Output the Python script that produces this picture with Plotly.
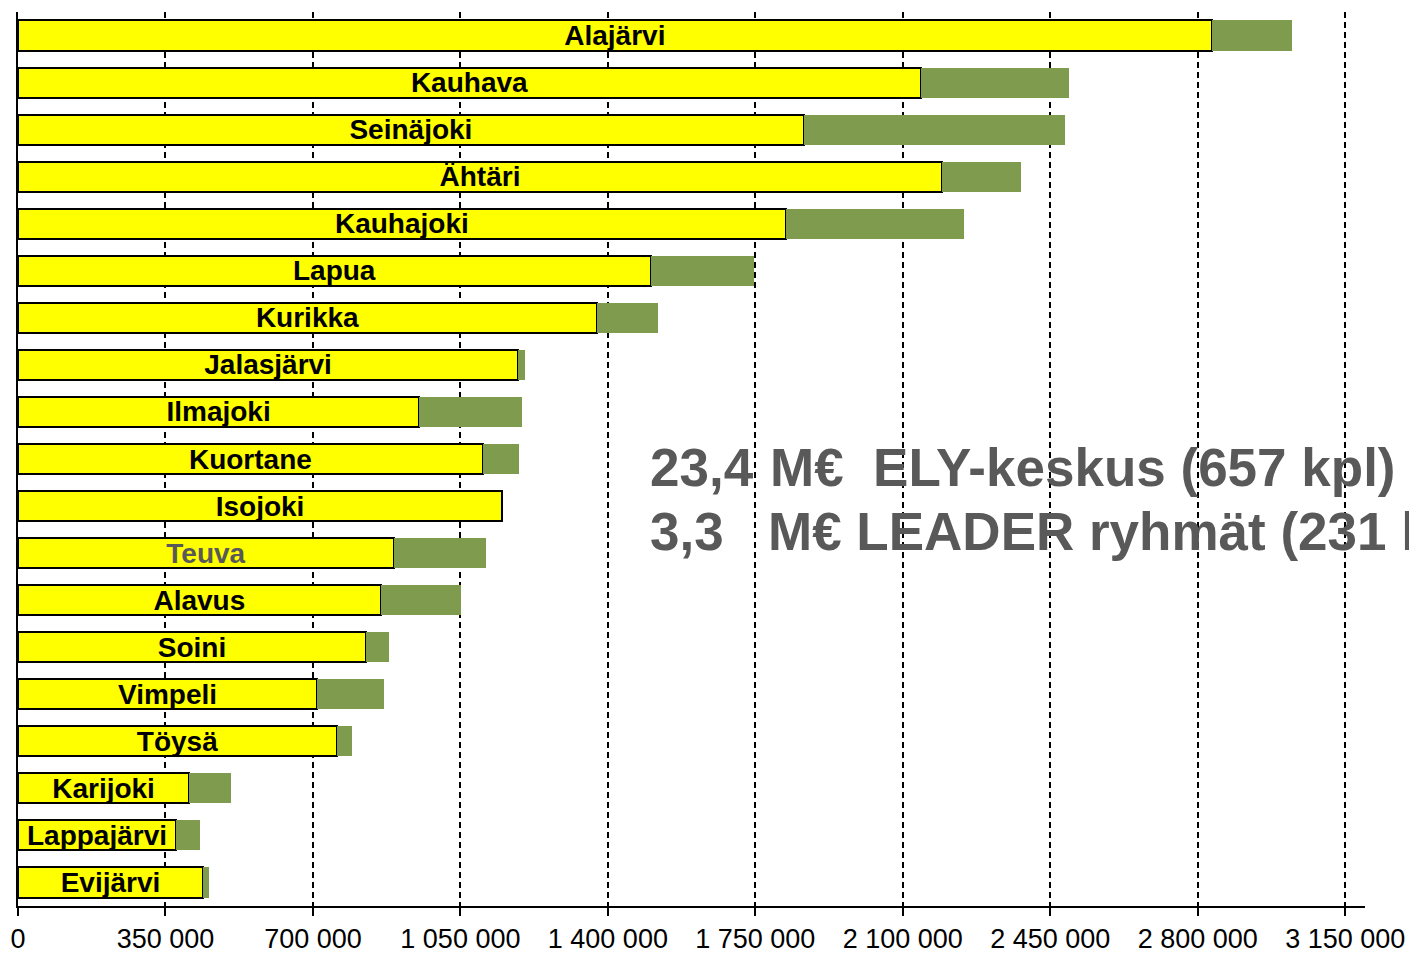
import plotly.graph_objects as go

municipalities = ["Alajärvi", "Kauhava", "Seinäjoki", "Ähtäri", "Kauhajoki", "Lapua", "Kurikka",
                  "Jalasjärvi", "Ilmajoki", "Kuortane", "Isojoki", "Teuva", "Alavus", "Soini",
                  "Vimpeli", "Töysä", "Karijoki", "Lappajärvi", "Evijärvi"]
ely = [2833000, 2143000, 1865000, 2193000, 1822000, 1502000, 1374000, 1187000, 952000, 1103000,
       1149000, 892000, 861000, 826000, 710000, 757000, 406000, 375000, 439000]
leader = [190000, 351000, 620000, 187000, 423000, 245000, 145000, 16000, 244000, 86000,
          0, 219000, 190000, 54000, 159000, 36000, 99000, 57000, 14000]
tick_vals = [0, 350000, 700000, 1050000, 1400000, 1750000, 2100000, 2450000, 2800000, 3150000]
tick_text = ["0", "350 000", "700 000", "1 050 000", "1 400 000", "1 750 000", "2 100 000",
             "2 450 000", "2 800 000", "3 150 000"]
label_colors = ["#000000"] * len(municipalities)
label_colors[municipalities.index("Teuva")] = "#595959"

fig = go.Figure()
fig.add_trace(go.Bar(
    y=municipalities, x=ely, orientation="h", name="ELY-keskus",
    marker=dict(color="#FFFF00", line=dict(color="#000000", width=2)),
    text=municipalities, textposition="inside", insidetextanchor="middle",
    constraintext="none",
    textfont=dict(family="Liberation Sans", size=28, color=label_colors, weight="bold"),
))
fig.add_trace(go.Bar(
    y=municipalities, x=leader, orientation="h", name="LEADER",
    marker=dict(color="#7F9B4D", line=dict(width=0)),
))

# plot area spans x 18..1365, y 12..906 in the window
ann_font = dict(family="Liberation Sans", size=53, color="#595959", weight="bold")
fig.add_annotation(xref="paper", yref="paper", x=(648 - 18) / 1347, y=(906 - 467) / 894,
                   text="23,4", showarrow=False, xanchor="left", yanchor="middle", font=ann_font)
fig.add_annotation(xref="paper", yref="paper", x=(768 - 18) / 1347, y=(906 - 467) / 894,
                   text="M€\u00a0\u00a0ELY-keskus (657 kpl)", showarrow=False, xanchor="left",
                   yanchor="middle", font=ann_font)
fig.add_annotation(xref="paper", yref="paper", x=(648 - 18) / 1347, y=(906 - 531) / 894,
                   text="3,3", showarrow=False, xanchor="left", yanchor="middle", font=ann_font)
fig.add_annotation(xref="paper", yref="paper", x=(766 - 18) / 1347, y=(906 - 531) / 894,
                   text="M€ LEADER ryhmät (231 kpl)", showarrow=False, xanchor="left",
                   yanchor="middle", font=ann_font)

fig.update_layout(
    width=1409, height=955,
    barmode="stack", bargap=0.36,
    showlegend=False,
    plot_bgcolor="white", paper_bgcolor="white",
    margin=dict(l=18, r=44, t=12, b=49),
    xaxis=dict(range=[0, 3197000], tickvals=tick_vals, ticktext=tick_text, automargin=False,
               showgrid=True, gridcolor="#000000", gridwidth=2, griddash="6px,4px",
               zeroline=False, showline=True, linecolor="#000000", linewidth=2,
               ticks="outside", ticklen=8, tickwidth=2, tickcolor="#000000",
               tickfont=dict(family="Liberation Sans", size=27, color="#000000")),
    yaxis=dict(autorange="reversed", showticklabels=False, showgrid=False, zeroline=False,
               automargin=False, showline=True, linecolor="#000000", linewidth=2, ticks=""),
)

fig.write_html("out.html", config={"displayModeBar": False},
               post_script="document.body.style.margin='0';document.body.style.overflow='hidden';")
